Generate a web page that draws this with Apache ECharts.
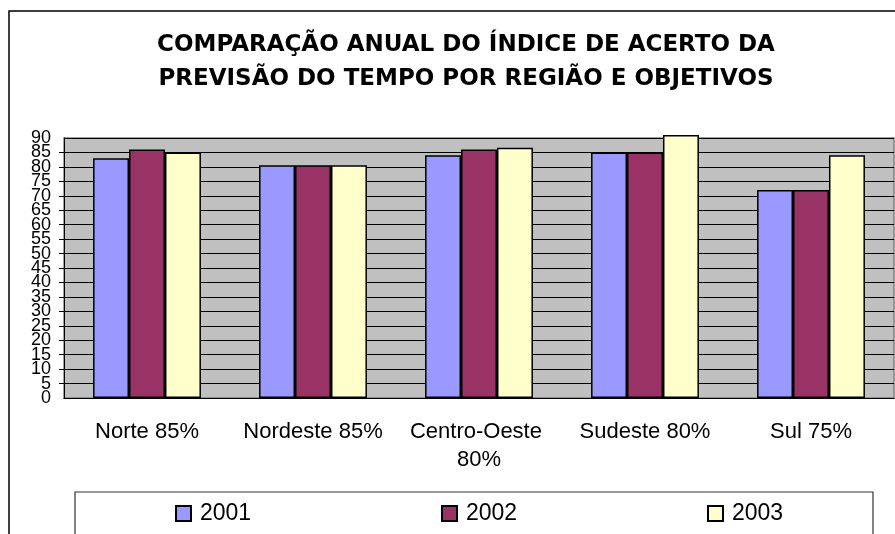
<!DOCTYPE html>
<html>
<head>
<meta charset="utf-8">
<script src="https://cdn.jsdelivr.net/npm/echarts@6/dist/echarts.min.js"></script>
<style>
  html, body { margin: 0; padding: 0; background: #fff; }
  #chart { width: 895px; height: 534px; }
</style>
</head>
<body>
<div id="chart"></div>
<script>
// regiões e meta de acerto
const regions = ['Norte 85%', 'Nordeste 85%', 'Centro-Oeste 80%', 'Sudeste 80%', 'Sul 75%']
const years = ['2001', '2002', '2003']
const values2001 = [83, 80.6, 84, 85, 72]
const values2002 = [86, 80.6, 86, 85, 72]
const values2003 = [85, 80.6, 86.6, 91, 84]
const yearColors = ['#9999FF', '#993366', '#FFFFCC']
const yMin = 0
const yMax = 90
const yStep = 5

const font = 'Liberation Sans, Arial, sans-serif'

const chart = echarts.init(document.getElementById('chart'))

const makeSeries = (name, data, color) => ({
  name: name,
  type: 'bar',
  data: data,
  clip: false,
  barGap: '0%',
  barCategoryGap: '35%',
  itemStyle: { color: color, borderColor: '#000', borderWidth: 1.5 }
})

// uma legenda por ano, para fixar a posição de cada item
const legendLefts = [170, 436, 702]
const legends = years.map((y, i) => ({
  data: [y],
  left: legendLefts[i],
  top: 497,
  icon: 'rect',
  itemWidth: 15,
  itemHeight: 15,
  itemGap: 0,
  selectedMode: false,
  textStyle: { fontFamily: font, fontSize: 23, color: '#000', padding: [0, 0, 0, 4] }
}))

const yLabelStyle = { color: '#000', fontSize: 18, fontFamily: font, margin: 13 }

chart.setOption({
  animation: false,
  backgroundColor: '#fff',
  textStyle: { fontFamily: font },
  title: {
    text: 'COMPARAÇÃO ANUAL DO ÍNDICE DE ACERTO DA\nPREVISÃO DO TEMPO POR REGIÃO E OBJETIVOS',
    left: 461,
    textAlign: 'center',
    top: 23,
    textStyle: { fontFamily: 'DejaVu Sans, sans-serif', fontSize: 23, fontWeight: 'bold', color: '#000', lineHeight: 34 }
  },
  graphic: [
    { type: 'rect', shape: { x: 9, y: 11, width: 1000, height: 1000 }, style: { fill: 'none', stroke: '#000', lineWidth: 1.5 }, silent: true },
    { type: 'rect', shape: { x: 75, y: 492, width: 798, height: 100 }, style: { fill: 'none', stroke: '#333', lineWidth: 1.2 }, silent: true }
  ],
  legend: legends,
  grid: {
    left: 64,
    right: 1,
    top: 138,
    bottom: 136,
    show: true,
    backgroundColor: '#C0C0C0',
    borderColor: '#808080',
    borderWidth: 1.5
  },
  xAxis: {
    type: 'category',
    data: regions,
    axisLine: { lineStyle: { color: '#000', width: 1 } },
    axisTick: { length: 6, lineStyle: { color: '#000' } },
    axisLabel: {
      color: '#000',
      fontSize: 22,
      fontFamily: font,
      margin: 20,
      width: 160,
      overflow: 'break',
      lineHeight: 28,
      interval: 0
    }
  },
  yAxis: [
    {
      // eixo principal: rótulos 5..85
      type: 'value',
      min: yMin,
      max: yMax,
      interval: yStep,
      axisLine: { show: true, lineStyle: { color: '#000', width: 1 } },
      axisTick: { show: true, length: 5, lineStyle: { color: '#000' } },
      axisLabel: Object.assign({ showMinLabel: false, showMaxLabel: false }, yLabelStyle),
      splitLine: { lineStyle: { color: '#000', width: 1 } }
    },
    {
      // só os extremos 0 e 90 (evita que o ECharts esconda os vizinhos)
      type: 'value',
      position: 'left',
      min: yMin,
      max: yMax,
      interval: yStep,
      axisLine: { show: false },
      axisTick: { show: false },
      splitLine: { show: false },
      axisLabel: Object.assign({
        showMinLabel: true,
        showMaxLabel: true,
        formatter: v => (v === yMin || v === yMax) ? String(v) : ''
      }, yLabelStyle)
    }
  ],
  series: [
    makeSeries(years[0], values2001, yearColors[0]),
    makeSeries(years[1], values2002, yearColors[1]),
    makeSeries(years[2], values2003, yearColors[2])
  ]
})
</script>
</body>
</html>
